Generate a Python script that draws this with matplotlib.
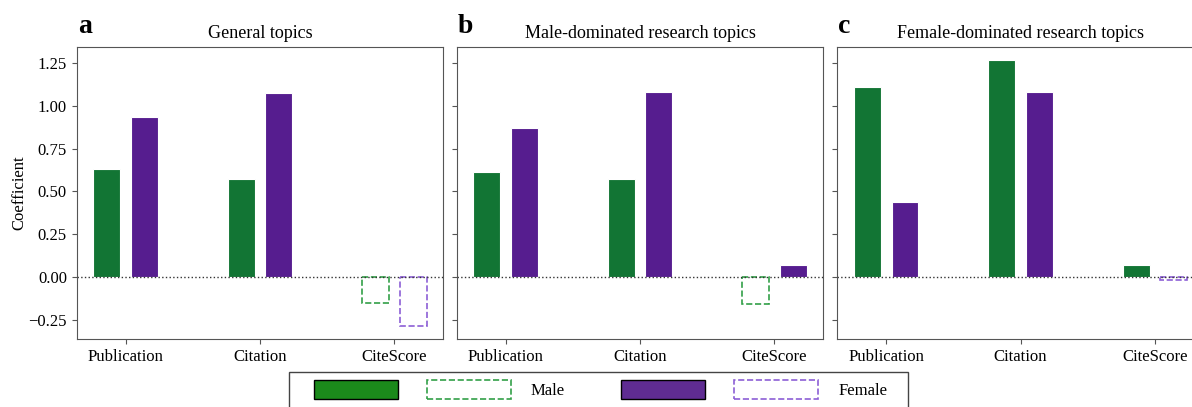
import matplotlib

matplotlib.use("Agg")
import matplotlib.pyplot as plt
import numpy as np
from matplotlib.legend_handler import HandlerTuple
from matplotlib.patches import Rectangle

plt.rcParams.update(
    {
        "font.family": ["Liberation Serif", "DejaVu Serif"],
        "font.size": 12,
        "axes.edgecolor": "#555555",
        "xtick.color": "#555555",
        "ytick.color": "#555555",
        "xtick.labelcolor": "black",
        "ytick.labelcolor": "black",
    }
)

categories = ["Publication", "Citation", "CiteScore"]
panel_letters = ["a", "b", "c"]
panel_titles = [
    "General topics",
    "Male-dominated research topics",
    "Female-dominated research topics",
]
male_general = [0.63, 0.57, -0.15]
female_general = [0.935, 1.075, -0.285]
male_male_dom = [0.613, 0.57, -0.16]
female_male_dom = [0.872, 1.082, 0.068]
male_female_dom = [1.11, 1.269, 0.07]
female_female_dom = [0.436, 1.084, -0.015]

male_values = [male_general, male_male_dom, male_female_dom]
female_values = [female_general, female_male_dom, female_female_dom]

colors = {
    "male": {"solid": "#127534", "dash": "#32a048", "legend": "#1b8a1b"},
    "female": {"solid": "#561d8f", "dash": "#8c5fd5", "legend": "#5f2c92"},
}

W, H = 1192, 407
fig = plt.figure(figsize=(W / 100, H / 100), dpi=100)

# axes placed in pixel terms; the right panel runs past the edge like the source
ax_left = [76.7, 456.7, 837.3]
ax_w = 366.6
ax_top, ax_bottom = 46.5, 339.0

bar_width = 0.2
offset = 0.14
x = np.arange(len(categories))

axes = []
for i in range(3):
    ax = fig.add_axes(
        [ax_left[i] / W, 1 - ax_bottom / H, ax_w / W, (ax_bottom - ax_top) / H],
        sharey=axes[0] if axes else None,
    )
    axes.append(ax)
    for key, vals, dx in [
        ("male", male_values[i], -offset),
        ("female", female_values[i], offset),
    ]:
        for xi, v in zip(x, vals):
            if v >= 0:
                ax.bar(
                    xi + dx,
                    v,
                    width=bar_width,
                    color=colors[key]["solid"],
                    edgecolor="white",
                    linewidth=0.8,
                )
            else:
                ax.bar(
                    xi + dx,
                    v,
                    width=bar_width,
                    fill=False,
                    edgecolor=colors[key]["dash"],
                    linestyle="--",
                    linewidth=1.2,
                )
    ax.axhline(0, color="#333333", linestyle=":", linewidth=1.0)
    ax.set_xticks(x, categories)
    ax.set_title(panel_titles[i], fontsize=13, pad=6)
    ax.text(
        ax_left[i] / W + 0.001,
        1 - 33.3 / H,
        panel_letters[i],
        transform=fig.transFigure,
        fontsize=20,
        fontweight="bold",
        ha="left",
        va="baseline",
    )
    if i > 0:
        ax.tick_params(axis="y", labelleft=False)

axes[0].set_yticks([-0.25, 0.0, 0.25, 0.5, 0.75, 1.0, 1.25])
axes[0].set_ylim(-0.362, 1.347)
axes[0].set_ylabel("Coefficient", fontsize=12)
axes[0].yaxis.set_label_coords(-0.135, 0.5)

handles = [
    (
        Rectangle((0, 0), 1, 1, facecolor=colors[k]["legend"], edgecolor="black", linewidth=1.0),
        Rectangle(
            (0, 0), 1, 1, fill=False, edgecolor=colors[k]["dash"], linestyle="--", linewidth=1.2
        ),
    )
    for k in ["male", "female"]
]
leg = fig.legend(
    handles=handles,
    labels=["Male", "Female"],
    ncol=2,
    loc="upper left",
    bbox_to_anchor=(314 / W, 1 - 380 / H),
    handler_map={tuple: HandlerTuple(ndivide=None, pad=1.74)},
    handlelength=11.8,
    handleheight=1.35,
    handletextpad=1.2,
    columnspacing=3.4,
    borderpad=0,
    borderaxespad=0,
    frameon=False,
    fontsize=12,
)

# legend frame drawn separately so its side padding matches the source
fig.patches.append(
    Rectangle(
        (289 / W, -0.05),
        (908 - 289) / W,
        1 - 372 / H + 0.05,
        transform=fig.transFigure,
        fill=False,
        edgecolor="#444444",
        linewidth=1.0,
    )
)

fig.savefig("out.png", dpi=100)
